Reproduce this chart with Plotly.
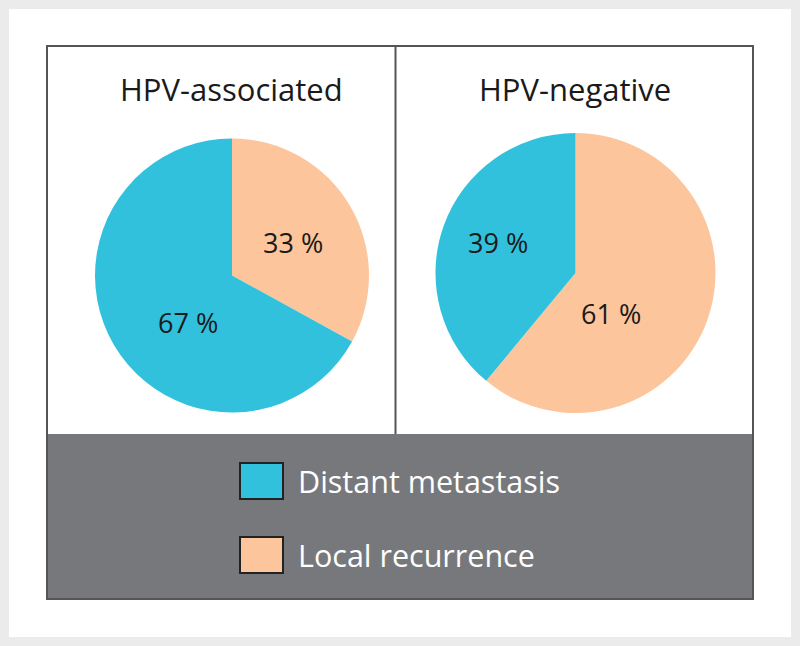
import plotly.graph_objects as go

W, H = 800, 646

categories = ["Local recurrence", "Distant metastasis"]
legend_order = ["Distant metastasis", "Local recurrence"]
panel_titles = ["HPV-associated", "HPV-negative"]
values_hpv_assoc = [33, 67]
values_hpv_neg = [61, 39]
colors = {"Distant metastasis": "#31c1dd", "Local recurrence": "#fdc59b"}

FONT = "Open Sans"

def px(x):
    return x / W

def py(y):
    return 1 - y / H

fig = go.Figure()

pie_domains = [
    dict(x=[px(95), px(369)], y=[py(413), py(138)]),
    dict(x=[px(435.5), px(715.5)], y=[py(413.5), py(132.5)]),
]
# label anchor positions (pixels) per pie, in category order
label_pos = [
    [(293, 242), (188, 322)],
    [(611, 313), (498, 242)],
]

annotations = []
for vals, dom, lp in zip([values_hpv_assoc, values_hpv_neg], pie_domains, label_pos):
    fig.add_trace(go.Pie(
        labels=categories,
        values=vals,
        textinfo="none",
        marker=dict(colors=[colors[c] for c in categories], line=dict(width=0)),
        sort=False,
        direction="clockwise",
        rotation=0,
        domain=dom,
        showlegend=False,
        hoverinfo="label+percent",
    ))
    for v, (x, y) in zip(vals, lp):
        annotations.append(dict(text=f"{v} %", x=px(x), y=py(y), xref="paper", yref="paper",
                                showarrow=False, xanchor="center", yanchor="middle",
                                font=dict(family=FONT, size=27, color="#1a1a1a")))

shapes = [
    dict(type="rect", xref="paper", yref="paper", x0=px(9), x1=px(791), y0=py(637), y1=py(9),
         fillcolor="white", line=dict(width=0), layer="below"),
    dict(type="rect", xref="paper", yref="paper", x0=px(47), x1=px(753), y0=py(599), y1=py(434),
         fillcolor="#77787c", line=dict(width=0), layer="below"),
    dict(type="rect", xref="paper", yref="paper", x0=px(47), x1=px(753), y0=py(599), y1=py(46),
         fillcolor="rgba(0,0,0,0)", line=dict(color="#555555", width=2), layer="above"),
    dict(type="line", xref="paper", yref="paper", x0=px(395.5), x1=px(395.5), y0=py(434), y1=py(46),
         line=dict(color="#555555", width=2)),
]

title_x = [232, 575]
for t, x in zip(panel_titles, title_x):
    annotations.append(dict(text=t, x=px(x), y=py(89), xref="paper", yref="paper",
                            showarrow=False, xanchor="center", yanchor="middle",
                            font=dict(family=FONT, size=31, color="#1a1a1a")))

legend_y = [481, 555]
for name, yc in zip(legend_order, legend_y):
    shapes.append(dict(type="rect", xref="paper", yref="paper",
                       x0=px(240), x1=px(283), y0=py(yc + 18), y1=py(yc - 18),
                       fillcolor=colors[name], line=dict(color="#222222", width=2)))
    annotations.append(dict(text=name, x=px(296), y=py(yc), xref="paper", yref="paper",
                            showarrow=False, xanchor="left", yanchor="middle",
                            font=dict(family=FONT, size=30.5, color="white")))

fig.update_layout(
    width=W, height=H,
    margin=dict(l=0, r=0, t=0, b=0),
    paper_bgcolor="#ebebeb",
    plot_bgcolor="#ebebeb",
    shapes=shapes,
    annotations=annotations,
    showlegend=False,
)

fig.write_html(
    "out.html",
    config={"displayModeBar": False},
    post_script="document.body.style.margin='0';document.body.style.overflow='hidden';document.body.style.background='#ebebeb';",
)
